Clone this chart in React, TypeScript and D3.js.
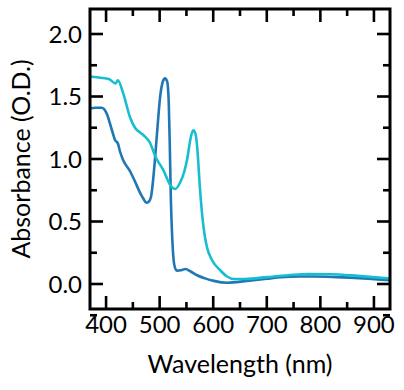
import { useMemo } from "react";
import * as d3 from "d3";

const blueWl = [370, 380, 392, 401, 411, 417, 422, 426, 432, 445, 454, 464, 470, 475, 480, 484, 489, 495, 501, 506, 510, 514, 517, 519, 521, 523, 525, 528, 532, 540, 548, 558, 570, 585, 601, 626, 663, 700, 726, 760, 788, 830, 880, 930];
const blueAbs = [1.405, 1.41, 1.41, 1.365, 1.23, 1.15, 1.125, 1.06, 0.99, 0.9, 0.82, 0.725, 0.68, 0.65, 0.66, 0.7, 0.885, 1.2, 1.5, 1.62, 1.645, 1.62, 1.45, 1.1, 0.67, 0.42, 0.25, 0.14, 0.107, 0.11, 0.12, 0.1, 0.07, 0.045, 0.025, 0.01, 0.025, 0.042, 0.055, 0.06, 0.06, 0.055, 0.045, 0.03];

const cyanWl = [370, 390, 405, 418, 422, 432, 445, 454, 470, 482, 492, 507, 520, 529, 538, 546, 551, 559, 563, 567, 570, 575, 579, 583, 588, 598, 613, 626, 638, 660, 700, 740, 776, 820, 870, 930];
const cyanAbs = [1.66, 1.65, 1.64, 1.605, 1.63, 1.525, 1.33, 1.25, 1.19, 1.13, 1.02, 0.91, 0.79, 0.76, 0.81, 0.9, 0.99, 1.19, 1.23, 1.2, 1.1, 0.78, 0.57, 0.42, 0.3, 0.19, 0.11, 0.06, 0.04, 0.04, 0.055, 0.07, 0.08, 0.078, 0.065, 0.045];

const xMajor = [400, 500, 600, 700, 800, 900];
const xMinor = [450, 550, 650, 750, 850];
const yMajor = [0, 0.5, 1.0, 1.5, 2.0];
const yMinor = [-0.25, 0.25, 0.75, 1.25, 1.75];

const W = 404;
const H = 390;
const FONT = "Lato, 'Noto Sans', sans-serif";

export default function App() {
  const x = d3.scaleLinear().domain([370, 930]).range([90, 390]);
  const y = d3.scaleLinear().domain([-0.2, 2.2]).range([309, 9]);

  const line = d3
    .line<[number, number]>()
    .x((d) => x(d[0]))
    .y((d) => y(d[1]))
    .curve(d3.curveMonotoneX);

  const bluePath = useMemo(() => line(blueWl.map((w, i) => [w, blueAbs[i]])), []);
  const cyanPath = useMemo(() => line(cyanWl.map((w, i) => [w, cyanAbs[i]])), []);

  const [x0, x1] = x.range();
  const [y0, y1] = y.range(); // y0 bottom, y1 top
  const major = 13;
  const minor = 7;

  return (
    <svg width={W} height={H} style={{ position: "absolute", left: 0, top: 0 }} fontFamily={FONT}>
      <defs>
        <clipPath id="plot">
          <rect x={x0} y={y1} width={x1 - x0} height={y0 - y1} />
        </clipPath>
      </defs>

      <g clipPath="url(#plot)" fill="none" strokeWidth={2.6} strokeLinejoin="round">
        <path d={bluePath ?? ""} stroke="#1f77b4" />
        <path d={cyanPath ?? ""} stroke="#17becf" />
      </g>

      {/* ticks, inward on all four sides */}
      <g stroke="#000" strokeWidth={2.6}>
        {xMajor.map((t) => (
          <g key={"xM" + t}>
            <line x1={x(t)} x2={x(t)} y1={y0} y2={y0 - major} />
            <line x1={x(t)} x2={x(t)} y1={y1} y2={y1 + major} />
          </g>
        ))}
        {xMinor.map((t) => (
          <g key={"xm" + t}>
            <line x1={x(t)} x2={x(t)} y1={y0} y2={y0 - minor} />
            <line x1={x(t)} x2={x(t)} y1={y1} y2={y1 + minor} />
          </g>
        ))}
        {yMajor.map((t) => (
          <g key={"yM" + t}>
            <line x1={x0} x2={x0 + major} y1={y(t)} y2={y(t)} />
            <line x1={x1} x2={x1 - major} y1={y(t)} y2={y(t)} />
          </g>
        ))}
        {yMinor.map((t) => (
          <g key={"ym" + t}>
            <line x1={x0} x2={x0 + minor} y1={y(t)} y2={y(t)} />
            <line x1={x1} x2={x1 - minor} y1={y(t)} y2={y(t)} />
          </g>
        ))}
      </g>

      <rect x={x0} y={y1} width={x1 - x0} height={y0 - y1} fill="none" stroke="#000" strokeWidth={3} />

      <g fontSize={24} fill="#000">
        {xMajor.map((t) => (
          <text key={"xl" + t} x={x(t)} y={333} textAnchor="middle">
            {t}
          </text>
        ))}
        {yMajor.map((t) => (
          <text key={"yl" + t} x={82} y={y(t)} dy="0.36em" textAnchor="end">
            {t.toFixed(1)}
          </text>
        ))}
      </g>

      <text x={(x0 + x1) / 2} y={373} textAnchor="middle" fontSize={25} fill="#000">
        Wavelength (nm)
      </text>
      <text
        transform={`translate(30,${(y0 + y1) / 2}) rotate(-90)`}
        textAnchor="middle"
        fontSize={25}
        fill="#000"
      >
        Absorbance (O.D.)
      </text>
    </svg>
  );
}
